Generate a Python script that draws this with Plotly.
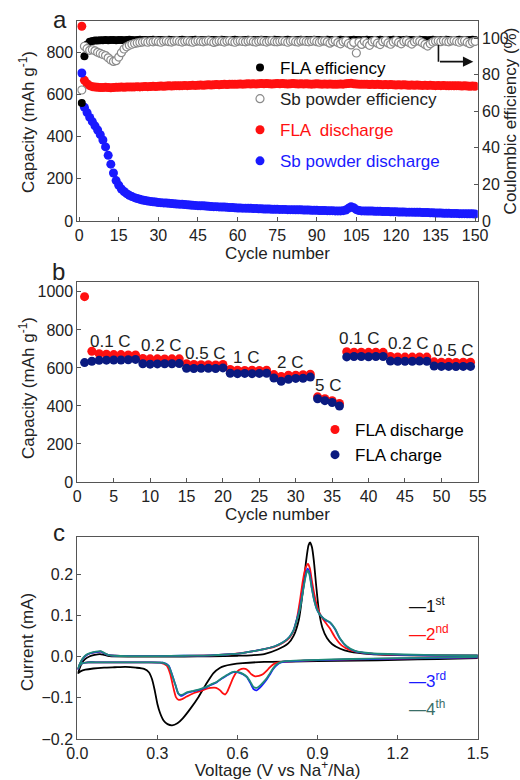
import plotly.graph_objects as go

# ---------------- Panel a data ----------------
cycles_a = list(range(1, 151))
fla_discharge = [
    925, 668, 652, 643, 638, 636, 635, 634, 634, 635, 634, 633, 634, 635, 635,
    636, 635, 636, 637, 636, 637, 638, 637, 638, 639, 638, 639, 640, 639, 640,
    641, 640, 641, 642, 641, 642, 643, 642, 643, 644, 643, 644, 645, 644, 645,
    646, 645, 646, 647, 646, 647, 648, 647, 648, 649, 648, 649, 650, 649, 650,
    651, 650, 651, 652, 651, 652, 651, 652, 653, 652, 653, 652, 651, 652, 653,
    652, 653, 652, 651, 652, 653, 652, 651, 652, 651, 652, 651, 650, 651, 652,
    651, 650, 651, 650, 651, 650, 649, 650, 651, 650, 652, 653, 654, 652, 651,
    650, 649, 650, 649, 648, 649, 648, 649, 648, 647, 648, 647, 648, 647, 646,
    647, 646, 647, 646, 645, 646, 645, 646, 645, 644, 645, 644, 645, 644, 643,
    644, 643, 644, 643, 642, 643, 642, 643, 642, 641, 642, 641, 640, 641, 640,
]
sb_discharge = [
    703, 540, 515, 492, 472, 452, 432, 410, 385, 352, 312, 270, 228, 192, 170,
    152, 140, 130, 122, 116, 111, 107, 103, 100, 97, 95, 93, 91, 90, 88,
    87, 86, 85, 84, 83, 82, 81, 80, 79, 78, 77, 76, 75, 74, 73,
    72, 72, 71, 70, 69, 68, 68, 67, 66, 66, 65, 64, 64, 63, 62,
    62, 61, 61, 60, 60, 59, 59, 58, 58, 57, 57, 57, 56, 56, 56,
    55, 55, 55, 54, 54, 54, 53, 53, 53, 52, 52, 52, 51, 51, 51,
    50, 50, 50, 49, 49, 49, 48, 48, 48, 49, 52, 60, 68, 63, 54,
    50, 48, 48, 47, 47, 47, 46, 46, 46, 45, 45, 45, 44, 44, 44,
    43, 43, 43, 42, 42, 42, 41, 41, 41, 40, 40, 40, 39, 39, 38,
    38, 38, 37, 37, 37, 36, 36, 36, 35, 35, 35, 34, 34, 34, 33,
]
fla_efficiency = [
    64.5, 90.0, 96.5, 98.0, 98.4, 98.6, 98.7, 98.8, 98.8, 98.9, 98.8, 98.9, 98.9, 98.8, 98.9,
    98.9, 98.8, 98.9, 99.0, 98.9, 98.8, 98.9, 99.0, 98.9, 98.9, 98.8, 98.9, 99.0, 98.9, 98.9,
    98.9, 98.8, 98.9, 99.0, 98.9, 98.9, 98.8, 98.9, 99.0, 98.9, 98.9, 98.8, 98.9, 99.0, 98.9,
    98.9, 98.8, 98.9, 99.0, 98.9, 98.9, 98.8, 98.9, 99.0, 98.9, 98.9, 98.8, 98.9, 99.0, 98.9,
    98.9, 98.8, 98.9, 99.0, 98.9, 98.9, 98.8, 98.9, 99.0, 98.9, 98.9, 98.8, 98.9, 99.0, 98.9,
    98.9, 98.8, 98.9, 99.0, 98.9, 98.9, 98.8, 98.9, 99.0, 98.9, 98.9, 98.8, 98.9, 99.0, 98.9,
    98.9, 98.8, 98.9, 99.0, 98.9, 98.9, 98.8, 98.9, 99.0, 98.9, 98.9, 98.8, 98.9, 99.0, 98.9,
    98.9, 98.8, 98.9, 99.0, 98.9, 98.9, 98.8, 98.9, 99.0, 98.9, 98.9, 98.8, 98.9, 99.0, 98.9,
    98.9, 98.8, 98.9, 99.0, 98.9, 98.9, 98.8, 98.9, 99.0, 98.9, 98.9, 98.8, 98.9, 99.0, 98.9,
    98.9, 98.8, 98.9, 99.0, 98.9, 98.9, 98.8, 98.9, 99.0, 98.9, 98.9, 98.8, 98.9, 99.0, 98.9,
]
sb_efficiency = [
    71.6, 95.5, 94.2, 93.3, 93.6, 93.0, 92.2, 91.6, 91.0, 90.4, 89.2, 88.0, 87.2, 87.6, 89.6,
    92.0, 94.0, 95.2, 96.0, 96.6, 97.0, 97.3, 97.6, 97.8, 98.0, 97.7, 98.1, 97.9, 98.3, 98.0,
    97.7, 98.2, 98.4, 98.0, 97.8, 98.3, 98.5, 98.1, 97.8, 98.2, 98.4, 98.0, 97.7, 98.1, 98.4,
    98.2, 97.9, 98.3, 98.5, 98.1, 97.6, 98.0, 98.4, 98.2, 97.8, 98.3, 98.5, 98.0, 97.7, 98.2,
    98.4, 98.1, 97.9, 98.3, 98.5, 98.0, 97.8, 98.2, 98.4, 98.1, 97.8, 98.3, 98.5, 98.0, 97.9,
    98.2, 98.4, 98.1, 97.7, 98.2, 98.5, 98.0, 97.8, 98.3, 98.4, 98.1, 97.9, 98.2, 98.5, 98.0,
    97.7, 98.3, 98.4, 97.9, 97.2, 98.0, 98.6, 97.5, 96.8, 97.9, 98.4, 97.0, 96.2, 97.6, 91.8,
    97.8, 96.5, 98.2, 97.0, 96.0, 97.9, 98.5, 97.2, 96.4, 98.0, 98.6, 97.3, 96.6, 97.8, 98.5,
    97.6, 96.8, 98.1, 98.4, 97.5, 96.7, 97.9, 98.6, 98.2, 97.4, 96.5, 95.6, 96.8, 97.8, 98.3,
    98.4, 98.0, 98.5, 98.2, 97.9, 98.4, 98.6, 98.1, 97.7, 98.3, 98.5, 97.6, 96.9, 97.8, 98.2,
]

# ---------------- Panel b data ----------------
cycles_b = list(range(1, 55))
rate_discharge = [
    975, 688, 675, 672, 670, 670, 668, 668,
    650, 648, 648, 647, 648, 648,
    622, 618, 617, 617, 616, 618,
    592, 588, 587, 588, 587, 588,
    565, 555, 562, 562, 564, 567,
    448, 438, 428, 413,
    685, 683, 683, 682, 683, 682,
    660, 658, 657, 657, 658, 657,
    632, 630, 630, 629, 630, 630,
]
rate_charge = [
    628, 635, 640, 641, 642, 642, 643, 645,
    622, 620, 621, 622, 622, 623,
    598, 597, 598, 598, 597, 600,
    572, 570, 571, 570, 571, 572,
    547, 530, 540, 545, 546, 552,
    438, 428, 418, 400,
    658, 660, 660, 659, 660, 660,
    636, 635, 635, 635, 636, 635,
    610, 608, 608, 607, 608, 608,
]
rate_labels = ["0.1 C", "0.2 C", "0.5 C", "1 C", "2 C", "5 C", "0.1 C", "0.2 C", "0.5 C"]
rate_label_x = [4.5, 11.5, 17.6, 23.1, 29.2, 34.4, 38.8, 45.5, 51.7]
rate_label_y = [737, 718, 674, 653, 630, 507, 753, 730, 691]

# ---------------- Panel c data (CV) ----------------
cv1_v = [1.5, 1.35, 1.2, 1.05, 0.9, 0.8, 0.7, 0.62, 0.58, 0.55, 0.535, 0.51, 0.485, 0.454, 0.423,
         0.395, 0.375, 0.355, 0.338, 0.323, 0.31, 0.3, 0.29, 0.28, 0.268, 0.25, 0.22, 0.18, 0.14,
         0.1, 0.06, 0.03, 0.012, 0.003,
         0.008, 0.015, 0.028, 0.045, 0.065, 0.085, 0.1, 0.12, 0.2, 0.3, 0.4, 0.5, 0.6, 0.65,
         0.7, 0.75, 0.79, 0.81, 0.83, 0.845, 0.857, 0.866, 0.872, 0.879, 0.886, 0.895, 0.905,
         0.918, 0.935, 0.955, 0.985, 1.02, 1.1, 1.25, 1.5]
cv1_i = [-0.004, -0.006, -0.008, -0.010, -0.011, -0.012, -0.013, -0.016, -0.019, -0.023, -0.027,
         -0.040, -0.064, -0.098, -0.127, -0.150, -0.162, -0.167, -0.164, -0.155, -0.137, -0.115,
         -0.082, -0.055, -0.038, -0.030, -0.027, -0.025, -0.026, -0.027, -0.029, -0.032, -0.036,
         -0.040,
         -0.030, -0.018, -0.007, 0.0, 0.004, 0.006, 0.004, 0.001, 0.0, 0.0, 0.0, 0.0005, 0.002,
         0.003, 0.006, 0.017, 0.032, 0.050, 0.090, 0.160, 0.232, 0.270, 0.277, 0.265, 0.232,
         0.170, 0.110, 0.070, 0.045, 0.030, 0.019, 0.012, 0.006, 0.003, 0.002]

cv2_v = [1.5, 1.3, 1.1, 0.95, 0.85, 0.78, 0.75, 0.734, 0.72, 0.71, 0.695, 0.68, 0.666, 0.652,
         0.641, 0.63, 0.615, 0.597, 0.585, 0.572, 0.562, 0.554, 0.545, 0.535, 0.52, 0.5, 0.485,
         0.46, 0.435, 0.41, 0.39, 0.38, 0.37, 0.36, 0.348, 0.335, 0.31, 0.25, 0.15, 0.08, 0.04,
         0.02, 0.01, 0.003,
         0.01, 0.02, 0.035, 0.05, 0.07, 0.088, 0.1, 0.115, 0.14, 0.2, 0.3, 0.4, 0.5, 0.56, 0.61,
         0.66, 0.7, 0.74, 0.772, 0.795, 0.81, 0.822, 0.834, 0.845, 0.855, 0.864, 0.871, 0.878,
         0.888, 0.897, 0.907, 0.918, 0.93, 0.945, 0.965, 0.99, 1.02, 1.06, 1.12, 1.3, 1.5]
cv2_i = [-0.002, -0.004, -0.006, -0.008, -0.010, -0.012, -0.015, -0.019, -0.027, -0.034, -0.043,
         -0.047, -0.048, -0.043, -0.035, -0.030, -0.030, -0.037, -0.050, -0.070, -0.085, -0.092,
         -0.089, -0.082, -0.076, -0.076, -0.078, -0.084, -0.089, -0.097, -0.104, -0.105, -0.099,
         -0.076, -0.042, -0.022, -0.015, -0.014, -0.014, -0.014, -0.014, -0.016, -0.020, -0.030,
         -0.018, -0.006, 0.004, 0.008, 0.011, 0.012, 0.008, 0.004, 0.002, 0.001, 0.001, 0.0015,
         0.003, 0.005, 0.008, 0.013, 0.018, 0.024, 0.034, 0.046, 0.062, 0.090, 0.136, 0.185,
         0.215, 0.225, 0.214, 0.186, 0.150, 0.124, 0.106, 0.093, 0.082, 0.069, 0.047, 0.027,
         0.016, 0.010, 0.006, 0.003, 0.002]

cv3_v = [1.5, 1.3, 1.1, 0.95, 0.85, 0.78, 0.76, 0.745, 0.734, 0.72, 0.71, 0.697, 0.685, 0.672,
         0.66, 0.648, 0.635, 0.62, 0.61, 0.595, 0.585, 0.57, 0.56, 0.54, 0.523, 0.5, 0.485, 0.46,
         0.435, 0.41, 0.395, 0.386, 0.378, 0.367, 0.354, 0.342, 0.32, 0.25, 0.15, 0.08, 0.04,
         0.02, 0.01, 0.003,
         0.01, 0.02, 0.035, 0.05, 0.07, 0.088, 0.1, 0.115, 0.14, 0.2, 0.3, 0.4, 0.5, 0.56, 0.61,
         0.66, 0.7, 0.74, 0.772, 0.795, 0.81, 0.822, 0.834, 0.847, 0.856, 0.862, 0.869, 0.878,
         0.888, 0.897, 0.907, 0.918, 0.93, 0.947, 0.965, 0.984, 1.009, 1.04, 1.1, 1.3, 1.5]
cv3_i = [-0.002, -0.004, -0.006, -0.008, -0.010, -0.012, -0.015, -0.022, -0.030, -0.045, -0.055,
         -0.066, -0.075, -0.082, -0.079, -0.064, -0.050, -0.043, -0.040, -0.038, -0.038, -0.042,
         -0.046, -0.054, -0.062, -0.069, -0.074, -0.080, -0.084, -0.088, -0.094, -0.095, -0.090,
         -0.068, -0.042, -0.022, -0.015, -0.014, -0.014, -0.014, -0.014, -0.016, -0.020, -0.030,
         -0.018, -0.006, 0.004, 0.008, 0.011, 0.012, 0.008, 0.004, 0.002, 0.001, 0.001, 0.002,
         0.003, 0.005, 0.0075, 0.013, 0.018, 0.025, 0.035, 0.048, 0.064, 0.090, 0.118, 0.168,
         0.200, 0.213, 0.205, 0.168, 0.135, 0.115, 0.103, 0.095, 0.088, 0.082, 0.067, 0.043,
         0.024, 0.013, 0.007, 0.003, 0.002]

cv4_v = [1.5, 1.3, 1.1, 0.95, 0.85, 0.78, 0.76, 0.745, 0.734, 0.72, 0.71, 0.697, 0.685, 0.672,
         0.66, 0.648, 0.635, 0.62, 0.61, 0.595, 0.585, 0.57, 0.56, 0.54, 0.523, 0.5, 0.485, 0.46,
         0.435, 0.41, 0.395, 0.386, 0.378, 0.367, 0.354, 0.342, 0.32, 0.25, 0.15, 0.08, 0.04,
         0.02, 0.01, 0.003,
         0.01, 0.02, 0.035, 0.05, 0.07, 0.088, 0.1, 0.115, 0.14, 0.2, 0.3, 0.4, 0.5, 0.56, 0.61,
         0.66, 0.7, 0.74, 0.772, 0.795, 0.81, 0.822, 0.834, 0.847, 0.856, 0.862, 0.869, 0.878,
         0.888, 0.897, 0.907, 0.918, 0.93, 0.947, 0.965, 0.984, 1.009, 1.04, 1.1, 1.3, 1.5]
cv4_i = [-0.001, -0.003, -0.005, -0.007, -0.009, -0.011, -0.014, -0.020, -0.028, -0.042, -0.052,
         -0.062, -0.070, -0.076, -0.074, -0.061, -0.049, -0.042, -0.039, -0.037, -0.037, -0.041,
         -0.045, -0.053, -0.061, -0.068, -0.073, -0.079, -0.083, -0.087, -0.092, -0.093, -0.089,
         -0.068, -0.043, -0.023, -0.015, -0.014, -0.014, -0.014, -0.014, -0.016, -0.020, -0.029,
         -0.017, -0.005, 0.005, 0.009, 0.012, 0.013, 0.009, 0.004, 0.002, 0.001, 0.001, 0.002,
         0.003, 0.005, 0.0075, 0.013, 0.018, 0.025, 0.035, 0.048, 0.064, 0.088, 0.116, 0.165,
         0.197, 0.209, 0.200, 0.166, 0.134, 0.115, 0.103, 0.095, 0.089, 0.083, 0.068, 0.044,
         0.025, 0.014, 0.008, 0.004, 0.003]
cv_names = ["1st", "2nd", "3rd", "4th"]

# ---------------- Styling ----------------
FONT = "Liberation Sans, Arial, sans-serif"
RED = "#ff1010"
BLUE = "#1a1aff"
NAVY = "#0a1a80"
TEAL = "#1f8a7a"
FRAME = "#555555"

fig = go.Figure()

# Panel a traces
fig.add_trace(go.Scatter(x=cycles_a, y=fla_discharge, mode="markers", name="<span style='color:#ff1010'>FLA  discharge</span>",
                         marker=dict(color=RED, size=9), xaxis="x", yaxis="y",
                         legend="legend", legendrank=3, legendgroup="a3"))
fig.add_trace(go.Scatter(x=cycles_a, y=sb_discharge, mode="markers", name="<span style='color:#1a1aff'>Sb powder discharge</span>",
                         marker=dict(color=BLUE, size=9), xaxis="x", yaxis="y",
                         legend="legend", legendrank=4, legendgroup="a4"))
fig.add_trace(go.Scatter(x=cycles_a, y=fla_efficiency, mode="markers", name="FLA efficiency",
                         marker=dict(color="black", size=8), xaxis="x", yaxis="y2",
                         legend="legend", legendrank=1, legendgroup="a1"))
fig.add_trace(go.Scatter(x=cycles_a, y=sb_efficiency, mode="markers", name="<span style='color:#222'>Sb powder efficiency</span>",
                         marker=dict(color="white", size=8, line=dict(color="#8a8a8a", width=1.2)),
                         xaxis="x", yaxis="y2", legend="legend", legendrank=2, legendgroup="a2"))

# Panel b traces
fig.add_trace(go.Scatter(x=cycles_b, y=rate_discharge, mode="markers", name="FLA discharge",
                         marker=dict(color=RED, size=9), xaxis="x2", yaxis="y3", legend="legend2"))
fig.add_trace(go.Scatter(x=cycles_b, y=rate_charge, mode="markers", name="FLA charge",
                         marker=dict(color=NAVY, size=9), xaxis="x2", yaxis="y3", legend="legend2"))

# Panel c traces
cv_colors = ["black", RED, BLUE, TEAL]
for v, i, nm, col in zip([cv1_v, cv2_v, cv3_v, cv4_v], [cv1_i, cv2_i, cv3_i, cv4_i], cv_names, cv_colors):
    fig.add_trace(go.Scatter(x=v, y=i, mode="lines", name=nm, showlegend=False,
                             line=dict(color=col, width=1.8, shape="spline", smoothing=0.6),
                             xaxis="x3", yaxis="y4"))

xdom = [77.3 / 520, 477.8 / 520]
tickfont = dict(family=FONT, size=16, color="#222")
titlefont = dict(family=FONT, size=17, color="#222")
axis_common = dict(showline=True, linecolor=FRAME, linewidth=1, ticks="inside", ticklen=4,
                   tickcolor=FRAME, showgrid=False, zeroline=False, tickfont=tickfont,
                   automargin=False)

fig.update_layout(
    width=520, height=780,
    margin=dict(l=0, r=0, t=0, b=0, pad=0),
    paper_bgcolor="white", plot_bgcolor="white",
    font=dict(family=FONT, size=16, color="#222"),
    xaxis=dict(domain=xdom, anchor="y", range=[-0.7, 151], tickvals=list(range(0, 151, 15)),
               mirror=True, title=dict(text="Cycle number", font=titlefont, standoff=0), **axis_common),
    yaxis=dict(domain=[1 - 221 / 780, 1 - 21 / 780], anchor="x", range=[0, 950],
               tickvals=[0, 200, 400, 600, 800], **axis_common),
    yaxis2=dict(overlaying="y", side="right", anchor="x", range=[0, 109.3],
                tickvals=[0, 20, 40, 60, 80, 100],
                title=dict(text="Coulombic efficiency (%)", font=titlefont, standoff=6), **axis_common),
    xaxis2=dict(domain=xdom, anchor="y3", range=[0, 55], tickvals=list(range(0, 56, 5)),
                mirror=True, title=dict(text="Cycle number", font=titlefont, standoff=0), **axis_common),
    yaxis3=dict(domain=[1 - 482 / 780, 1 - 282 / 780], anchor="x2", range=[0, 1052],
                tickvals=[0, 200, 400, 600, 800, 1000], mirror=True, **axis_common),
    xaxis3=dict(domain=xdom, anchor="y4", range=[0, 1.5], tickvals=[0, 0.3, 0.6, 0.9, 1.2, 1.5],
                tickformat=".1f", mirror=True,
                title=dict(text="Voltage (V vs Na<sup>+</sup>/Na)", font=titlefont, standoff=0), **axis_common),
    yaxis4=dict(domain=[1 - 739 / 780, 1 - 537 / 780], anchor="x3", range=[-0.2, 0.29],
                tickvals=[-0.2, -0.1, 0, 0.1, 0.2], tickformat=".1f", mirror=True, **axis_common),
    legend=dict(x=240 / 520, y=1 - 50 / 780, xanchor="left", yanchor="top",
                bgcolor="rgba(0,0,0,0)", font=dict(family=FONT, size=17, color="black"),
                tracegroupgap=6, itemsizing="trace"),
    legend2=dict(x=315 / 520, y=1 - 412 / 780, xanchor="left", yanchor="top",
                 bgcolor="rgba(0,0,0,0)", font=dict(family=FONT, size=17, color="black"),
                 tracegroupgap=0),
)

annotations = []
# left y-axis titles
for t, cy in [("Capacity (mAh g<sup>-1</sup>)", 122), ("Capacity (mAh g<sup>-1</sup>)", 388),
              ("Current (mA)", 642)]:
    annotations.append(dict(text=t, x=27 / 520, y=1 - cy / 780, xref="paper", yref="paper",
                            showarrow=False, textangle=-90, xanchor="center", yanchor="middle",
                            font=titlefont))
for t, x, y in zip(rate_labels, rate_label_x, rate_label_y):
    annotations.append(dict(text=t, x=x, y=y, xref="x2", yref="y3", showarrow=False,
                            font=dict(family=FONT, size=17, color="#222")))
# panel letters
for t, px, py in [("a", 60, 19), ("b", 58, 271), ("c", 59, 532)]:
    annotations.append(dict(text=t, x=px / 520, y=1 - py / 780, xref="paper", yref="paper",
                            showarrow=False, xanchor="center", yanchor="middle",
                            font=dict(family=FONT, size=24, color="#222")))
# CV legend labels
cv_leg_y = [0.125, 0.057, -0.057, -0.125]
cv_leg_txt = ["—1<sup>st</sup>", "—2<sup>nd</sup>", "—3<sup>rd</sup>", "—4<sup>th</sup>"]
cv_leg_col = ["#111", RED, BLUE, "#3a6e68"]
for t, y, c in zip(cv_leg_txt, cv_leg_y, cv_leg_col):
    annotations.append(dict(text=t, x=1.235, y=y, xref="x3", yref="y4", showarrow=False,
                            xanchor="left", yanchor="middle",
                            font=dict(family=FONT, size=17, color=c)))
# arrow pointing to right axis
annotations.append(dict(x=149.3, y=757, ax=136.1, ay=757, xref="x", yref="y", axref="x", ayref="y",
                        showarrow=True, arrowhead=2, arrowsize=1.3, arrowwidth=1.6, arrowcolor="#111",
                        text=""))
fig.update_layout(annotations=annotations)
fig.add_shape(type="line", x0=136.1, x1=136.1, y0=836, y1=757, xref="x", yref="y",
              line=dict(color="#111", width=1.6))

fig.write_html("out.html")
